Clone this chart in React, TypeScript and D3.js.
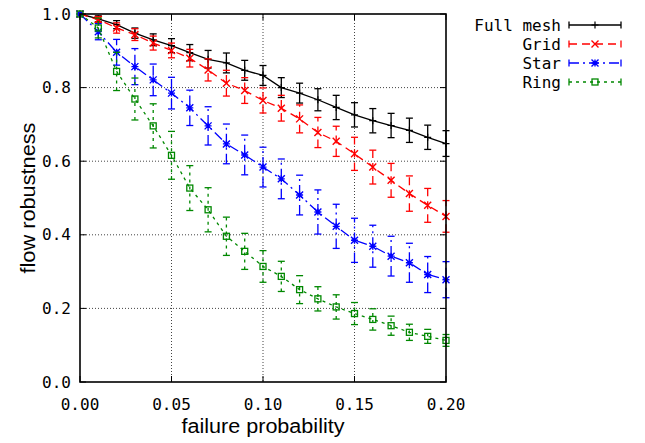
import React from 'react';
import * as d3 from 'd3';

// failure probability (x)
const probs = [0, 0.01, 0.02, 0.03, 0.04, 0.05, 0.06, 0.07, 0.08, 0.09, 0.1,
    0.11, 0.12, 0.13, 0.14, 0.15, 0.16, 0.17, 0.18, 0.19, 0.2];

const fullMesh = [1.0, 0.987, 0.971, 0.948, 0.93, 0.914, 0.895, 0.877, 0.867, 0.847, 0.833,
    0.8, 0.785, 0.767, 0.746, 0.726, 0.71, 0.697, 0.684, 0.665, 0.648];
const fullMeshErr = [0, 0.008, 0.011, 0.014, 0.016, 0.019, 0.022, 0.024, 0.027, 0.027, 0.027,
    0.027, 0.027, 0.03, 0.033, 0.033, 0.033, 0.033, 0.033, 0.033, 0.035];

const grid = [1.0, 0.985, 0.962, 0.944, 0.921, 0.901, 0.88, 0.848, 0.812, 0.792, 0.765,
    0.744, 0.715, 0.678, 0.654, 0.62, 0.584, 0.548, 0.512, 0.48, 0.45];
const gridErr = [0, 0.008, 0.014, 0.016, 0.019, 0.02, 0.024, 0.03, 0.035, 0.035, 0.034,
    0.035, 0.038, 0.041, 0.041, 0.045, 0.046, 0.046, 0.048, 0.046, 0.043];

const star = [1.0, 0.952, 0.896, 0.857, 0.821, 0.785, 0.745, 0.696, 0.647, 0.617, 0.584,
    0.552, 0.508, 0.462, 0.423, 0.385, 0.369, 0.342, 0.324, 0.292, 0.278];
const starErr = [0, 0.022, 0.035, 0.049, 0.043, 0.043, 0.048, 0.052, 0.054, 0.054, 0.054,
    0.054, 0.054, 0.06, 0.06, 0.06, 0.057, 0.054, 0.053, 0.049, 0.049];

const ring = [1.0, 0.962, 0.844, 0.769, 0.696, 0.616, 0.527, 0.468, 0.396, 0.355, 0.314,
    0.287, 0.251, 0.226, 0.204, 0.186, 0.17, 0.153, 0.135, 0.124, 0.113];
const ringErr = [0, 0.027, 0.052, 0.057, 0.06, 0.065, 0.061, 0.06, 0.052, 0.049, 0.043,
    0.041, 0.038, 0.033, 0.033, 0.03, 0.029, 0.026, 0.022, 0.019, 0.016];

const xTicks = [0, 0.05, 0.1, 0.15, 0.2];
const yTicks = [0, 0.2, 0.4, 0.6, 0.8, 1.0];

const series = [
    { name: 'Full mesh', values: fullMesh, errs: fullMeshErr, color: '#000000', dash: 'none', marker: 'plus' },
    { name: 'Grid', values: grid, errs: gridErr, color: '#ff0000', dash: '8,5', marker: 'cross' },
    { name: 'Star', values: star, errs: starErr, color: '#0000ff', dash: '10,4,2,4', marker: 'star' },
    { name: 'Ring', values: ring, errs: ringErr, color: '#008800', dash: '3,4', marker: 'square' },
];

const W = 645, H = 443;
const left = 80, right = 446, top = 14, bottom = 382;
const mono = "'DejaVu Sans Mono', monospace";
const sans = "'Liberation Sans', Arial, sans-serif";

const x = d3.scaleLinear().domain([0, 0.2]).range([left, right]);
const y = d3.scaleLinear().domain([0, 1]).range([bottom, top]);

const Marker = ({ type, cx, cy, color }) => {
    const s = 3.5;
    if (type === 'plus') {
        return <path d={`M${cx - s},${cy}H${cx + s}M${cx},${cy - s}V${cy + s}`} stroke={color} strokeWidth={1.2} />;
    }
    if (type === 'cross') {
        return <path d={`M${cx - s},${cy - s}L${cx + s},${cy + s}M${cx - s},${cy + s}L${cx + s},${cy - s}`} stroke={color} strokeWidth={1.4} />;
    }
    if (type === 'star') {
        return <path d={`M${cx - s},${cy}H${cx + s}M${cx},${cy - s}V${cy + s}M${cx - s},${cy - s}L${cx + s},${cy + s}M${cx - s},${cy + s}L${cx + s},${cy - s}`} stroke={color} strokeWidth={1.4} />;
    }
    return <rect x={cx - 3} y={cy - 3} width={6} height={6} fill="none" stroke={color} strokeWidth={1.3} />;
};

export default function App() {
    const line = d3.line<number>().x((d, i) => x(probs[i])).y(d => y(d));

    return (
        <svg width={W} height={H} style={{ position: 'absolute', left: 0, top: 0, background: '#fff' }}>
            {/* grid */}
            {yTicks.filter(t => t > 0 && t < 1).map(t => (
                <line key={'gy' + t} x1={left} x2={right} y1={y(t)} y2={y(t)} stroke="#444" strokeWidth={1} strokeDasharray="1,2" />
            ))}
            {xTicks.filter(t => t > 0 && t < 0.2).map(t => (
                <line key={'gx' + t} x1={x(t)} x2={x(t)} y1={top} y2={bottom} stroke="#444" strokeWidth={1} strokeDasharray="1,2" />
            ))}

            {/* ticks */}
            {yTicks.map(t => (
                <g key={'ty' + t}>
                    <line x1={left} x2={left + 6} y1={y(t)} y2={y(t)} stroke="#000" />
                    <line x1={right - 6} x2={right} y1={y(t)} y2={y(t)} stroke="#000" />
                    <text x={71} y={y(t)} dy="0.35em" textAnchor="end" fontFamily={mono} fontSize={16}>{t.toFixed(1)}</text>
                </g>
            ))}
            {xTicks.map(t => (
                <g key={'tx' + t}>
                    <line x1={x(t)} x2={x(t)} y1={bottom} y2={bottom - 6} stroke="#000" />
                    <line x1={x(t)} x2={x(t)} y1={top} y2={top + 6} stroke="#000" />
                    <text x={x(t)} y={410} textAnchor="middle" fontFamily={mono} fontSize={16}>{t.toFixed(2)}</text>
                </g>
            ))}

            {/* series */}
            {series.map(s => (
                <g key={s.name}>
                    <path d={line(s.values) || ''} fill="none" stroke={s.color} strokeWidth={1.3} strokeDasharray={s.dash} />
                    {s.values.map((v, i) => {
                        const cx = x(probs[i]);
                        const lo = y(v - s.errs[i]), hi = y(v + s.errs[i]);
                        return (
                            <g key={i}>
                                {s.errs[i] > 0 && (
                                    <g stroke={s.color} strokeWidth={1.3}>
                                        <line x1={cx} x2={cx} y1={lo} y2={hi} strokeDasharray={s.dash} />
                                        <line x1={cx - 3.5} x2={cx + 3.5} y1={lo} y2={lo} />
                                        <line x1={cx - 3.5} x2={cx + 3.5} y1={hi} y2={hi} />
                                    </g>
                                )}
                                <Marker type={s.marker} cx={cx} cy={y(v)} color={s.color} />
                            </g>
                        );
                    })}
                </g>
            ))}

            {/* frame */}
            <rect x={left} y={top} width={right - left} height={bottom - top} fill="none" stroke="#000" strokeWidth={1.6} />

            {/* axis labels */}
            <text x={(left + right) / 2} y={433} textAnchor="middle" fontFamily={sans} fontSize={20} textLength={163} lengthAdjust="spacingAndGlyphs">failure probability</text>
            <text transform={`translate(35,${(top + bottom) / 2}) rotate(-90)`} textAnchor="middle" fontFamily={sans} fontSize={20} textLength={151} lengthAdjust="spacingAndGlyphs">flow robustness</text>

            {/* legend */}
            {series.map((s, i) => {
                const ly = 25 + i * 19;
                const x0 = 569, x1 = 621;
                return (
                    <g key={'lg' + s.name}>
                        <text x={561} y={ly} dy="0.35em" textAnchor="end" fontFamily={mono} fontSize={16}>{s.name}</text>
                        <line x1={x0} x2={x1} y1={ly} y2={ly} stroke={s.color} strokeWidth={1.3} strokeDasharray={s.dash} />
                        <line x1={x0} x2={x0} y1={ly - 3.5} y2={ly + 3.5} stroke={s.color} strokeWidth={1.3} />
                        <line x1={x1} x2={x1} y1={ly - 3.5} y2={ly + 3.5} stroke={s.color} strokeWidth={1.3} />
                        <Marker type={s.marker} cx={(x0 + x1) / 2} cy={ly} color={s.color} />
                    </g>
                );
            })}
        </svg>
    );
}
